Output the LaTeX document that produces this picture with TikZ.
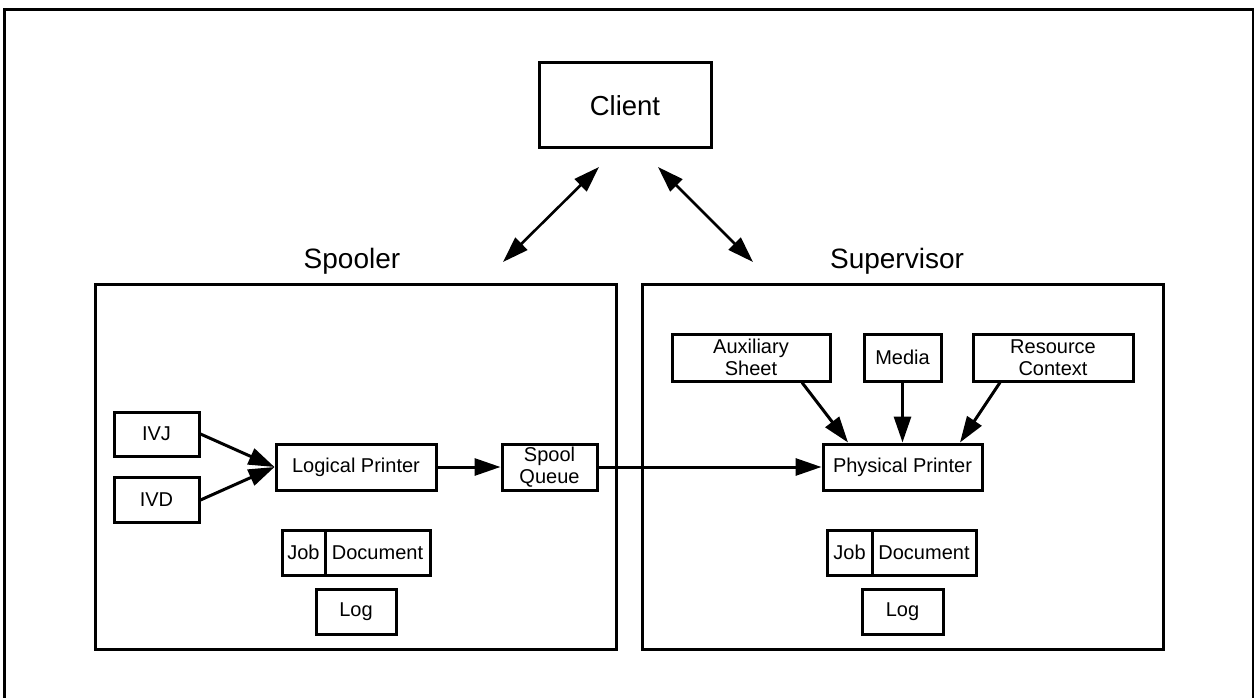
\documentclass[tikz,border=0pt]{standalone}
\usepackage{fontspec}
\setmainfont{Liberation Sans}
\usetikzlibrary{arrows.meta}
\begin{document}
\begin{tikzpicture}[x=1pt,y=-1pt,
  box/.style={draw,line width=3pt,inner sep=0pt,align=center,font=\fontsize{20}{22.5}\selectfont},
  bigbox/.style={draw,line width=3pt,inner sep=0pt},
  biglabel/.style={font=\fontsize{28}{32}\selectfont,anchor=base},
  conn/.style={line width=3pt,-{Triangle[length=26pt,width=17pt]}},
  conn2/.style={line width=2.6pt,{Triangle[length=26pt,width=17pt]}-{Triangle[length=26pt,width=17pt]}}]
\useasboundingbox (0,0) rectangle (1254,698);
\draw[line width=3pt] (4,10) rectangle (1253,720);
% client
\node[box,minimum width=172pt,minimum height=85pt,font=\fontsize{27.5}{32}\selectfont] (client) at (625,105.5) {Client};
\coordinate (ca1) at (599,167);
\coordinate (ca2) at (503,262);
\coordinate (cb1) at (658,167);
\coordinate (cb2) at (753,262);
\draw[conn2] (ca1) -- (ca2);
\draw[conn2] (cb1) -- (cb2);
% containers
\node[bigbox,minimum width=521pt,minimum height=365pt] (spooler) at (355.5,466.5) {};
\node[bigbox,minimum width=521pt,minimum height=365pt] (supervisor) at (902.5,466.5) {};
\node[biglabel] (spoolerlbl) at (352,268) {Spooler};
\node[biglabel] (supervisorlbl) at (897,268) {Supervisor};
% spooler contents
\node[box,minimum width=85pt,minimum height=44pt] (ivj) at (156.5,434) {IVJ};
\node[box,minimum width=85pt,minimum height=45pt] (ivd) at (156.5,500) {IVD};
\node[box,minimum width=160pt,minimum height=46pt] (lp) at (356,467) {Logical Printer};
\node[box,minimum width=95pt,minimum height=46pt] (sq) at (549.5,467) {Spool\\Queue};
\node[box,minimum width=43pt,minimum height=45pt] (jobl) at (303.5,552.5) {Job};
\node[box,minimum width=105pt,minimum height=45pt] (docl) at (377.5,552.5) {Document};
\node[box,minimum width=80pt,minimum height=45pt] (logl) at (356,611.5) {Log};
% supervisor contents
\node[box,minimum width=159pt,minimum height=46pt] (pp) at (902.5,467) {Physical Printer};
\node[box,minimum width=158pt,minimum height=47pt] (aux) at (751,357.5) {Auxiliary\\Sheet};
\node[box,minimum width=77pt,minimum height=47pt] (media) at (902.5,357.5) {Media};
\node[box,minimum width=160pt,minimum height=47pt] (res) at (1053,357.5) {Resource\\Context};
\node[box,minimum width=45pt,minimum height=45pt] (jobr) at (849.5,552.5) {Job};
\node[box,minimum width=104pt,minimum height=45pt] (docr) at (924,552.5) {Document};
\node[box,minimum width=81pt,minimum height=45pt] (logr) at (902.5,611.5) {Log};
% connectors
\draw[conn] (ivj.east) -- (lp.west);
\draw[conn] (ivd.east) -- (lp.west);
\draw[conn] (lp.east) -- (sq.west);
\draw[conn] (sq.east) -- (pp.west);
\draw[conn] ([xshift=51pt]aux.south) -- ([xshift=-54.5pt]pp.north);
\draw[conn] (media.south) -- (pp.north);
\draw[conn] ([xshift=-53pt]res.south) -- ([xshift=57.5pt]pp.north);
\end{tikzpicture}
\end{document}
